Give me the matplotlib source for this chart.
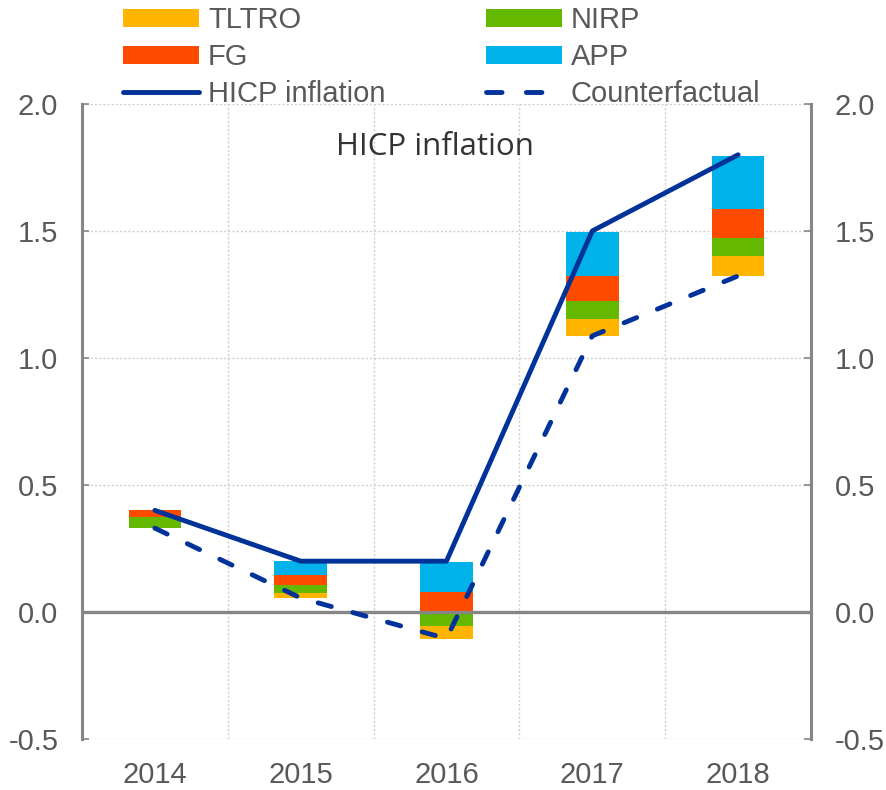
import matplotlib
matplotlib.use('Agg')
import matplotlib.pyplot as plt
from matplotlib.lines import Line2D
import numpy as np

years = ['2014', '2015', '2016', '2017', '2018']
hicp = [0.40, 0.20, 0.20, 1.50, 1.80]
counterfactual = [0.33, 0.055, -0.105, 1.087, 1.323]
tltro = [0.0, 0.02, 0.05, 0.067, 0.079]
nirp = [0.045, 0.032, 0.055, 0.069, 0.069]
fg = [0.025, 0.04, 0.077, 0.10, 0.114]
app = [0.0, 0.053, 0.12, 0.173, 0.212]

colores = {'TLTRO': '#FFB400', 'NIRP': '#65B800', 'FG': '#FF4B00', 'APP': '#00B1EA'}
azul = '#003299'
gris = '#868686'
texto = '#595959'

plt.rcParams['font.family'] = ['Liberation Sans', 'DejaVu Sans']

fig = plt.figure(figsize=(8.87, 7.9), dpi=100)
ax = fig.add_axes([0.0924, 0.0646, 0.8219, 0.8038])

x = np.arange(len(years))
ancho = 0.36
base = np.array(counterfactual, dtype=float)
barras = {}
for nombre, valores in [('TLTRO', tltro), ('NIRP', nirp), ('FG', fg), ('APP', app)]:
    barras[nombre] = ax.bar(x, valores, ancho, bottom=base, color=colores[nombre],
                            linewidth=0, zorder=2, label=nombre)
    base = base + np.array(valores)

ax.axhline(0, color=gris, lw=2.4, zorder=3)

linea, = ax.plot(x, hicp, color=azul, lw=3.5, solid_capstyle='round', zorder=4,
                 label='HICP inflation')
ax.plot(x, counterfactual, color=azul, lw=3.5, dashes=(2.8, 4.6),
        dash_capstyle='round', zorder=4, label='Counterfactual')
# handle propio para que la leyenda muestre dos guiones
contra = Line2D([], [], color=azul, lw=3.5, dashes=(3.2, 5.0), dash_capstyle='round')

ax.set_xlim(-0.5, 4.5)
ax.set_ylim(-0.5, 2.0)
ax.set_yticks([-0.5, 0.0, 0.5, 1.0, 1.5, 2.0])
ax.set_yticklabels(['-0.5', '0.0', '0.5', '1.0', '1.5', '2.0'])
ax.set_xticks(x)
ax.set_xticklabels(years)

# lineas de grilla punteadas
for yv in [-0.5, 0.5, 1.0, 1.5, 2.0]:
    ax.axhline(yv, color='#cfcfcf', lw=1, ls=(0, (1.5, 1.5)), zorder=0)
for xv in [0.5, 1.5, 2.5, 3.5]:
    ax.axvline(xv, color='#cfcfcf', lw=1, ls=(0, (1.5, 1.5)), zorder=0)

for lado in ['top', 'bottom']:
    ax.spines[lado].set_visible(False)
for lado in ['left', 'right']:
    ax.spines[lado].set_color(gris)
    ax.spines[lado].set_linewidth(2.2)

ax.tick_params(axis='y', which='both', direction='in', length=5, width=1.2, color=gris,
               left=True, right=True, labelleft=True, labelright=True,
               labelsize=21, labelcolor=texto, pad=17)
ax.tick_params(axis='x', length=0, labelsize=21, labelcolor=texto, pad=16)

ax.text(0.484, 0.932, 'HICP inflation', transform=ax.transAxes, ha='center', va='center',
        fontsize=22.5, color='#333333', family=['Open Sans', 'DejaVu Sans'])

handles = [barras['TLTRO'], barras['FG'], linea, barras['NIRP'], barras['APP'], contra]
etiquetas = ['TLTRO', 'FG', 'HICP inflation', 'NIRP', 'APP', 'Counterfactual']
fig.legend(handles, etiquetas, ncol=2, loc='upper left', bbox_to_anchor=(0.139, 0.992),
           frameon=False, fontsize=21, labelcolor=texto, handlelength=2.6,
           handleheight=0.55, handletextpad=0.3, columnspacing=3.45, labelspacing=0.3,
           borderpad=0, borderaxespad=0)

fig.savefig('out.png', dpi=100)
